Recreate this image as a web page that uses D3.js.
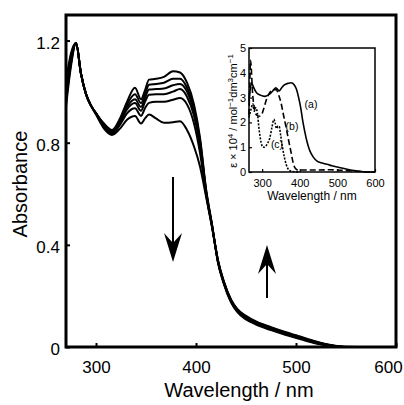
<!DOCTYPE html>
<html><head><meta charset="utf-8">
<script src="https://cdn.jsdelivr.net/npm/d3@7"></script>
<style>
body{margin:0;background:#fff}
svg{display:block}
text{font-family:"Liberation Sans",Arial,Helvetica,sans-serif;fill:#000}
</style>
</head><body>
<svg id="c" width="404" height="405"></svg>
<script>
// ---- main chart data (absorbance vs wavelength, six spectra) ----
const wavelengths = [270,275,280,285,290,295,300,308,316,324,331,339,345,349,353,360,368,377,384,391,398,404,410,416,422,428,435,441,450,460,475,490,505,520,535,550,575,600];
const spectrum1 = [0.94,1.10,1.19,1.07,0.99,0.945,0.915,0.875,0.85,0.895,0.96,1.015,0.97,1.005,1.047,1.05,1.058,1.08,1.075,1.035,0.95,0.82,0.62,0.48,0.33,0.245,0.175,0.138,0.108,0.088,0.066,0.047,0.030,0.014,0.004,0,0,0];
const spectrum2 = [0.96,1.11,1.19,1.07,0.99,0.945,0.915,0.872,0.845,0.89,0.95,0.99,0.955,0.99,1.027,1.03,1.035,1.05,1.05,1.015,0.935,0.81,0.615,0.478,0.332,0.248,0.178,0.141,0.111,0.091,0.069,0.05,0.033,0.016,0.005,0,0,0];
const spectrum3 = [0.98,1.12,1.19,1.07,0.99,0.945,0.915,0.868,0.84,0.885,0.94,0.97,0.94,0.975,1.008,1.01,1.012,1.025,1.03,1.0,0.92,0.80,0.61,0.476,0.334,0.25,0.18,0.144,0.114,0.094,0.072,0.052,0.035,0.018,0.006,0,0,0];
const spectrum4 = [1.0,1.13,1.19,1.07,0.99,0.945,0.915,0.865,0.838,0.878,0.93,0.955,0.925,0.96,0.988,0.99,0.99,1.0,1.01,0.98,0.905,0.785,0.605,0.474,0.336,0.251,0.182,0.146,0.116,0.096,0.074,0.054,0.036,0.019,0.006,0,0,0];
const spectrum5 = [1.02,1.14,1.19,1.07,0.99,0.945,0.915,0.862,0.835,0.87,0.915,0.935,0.905,0.935,0.956,0.96,0.96,0.968,0.975,0.95,0.875,0.76,0.60,0.472,0.338,0.253,0.184,0.148,0.119,0.098,0.076,0.056,0.038,0.02,0.007,0,0,0];
const spectrum6 = [1.04,1.15,1.19,1.07,0.99,0.945,0.91,0.855,0.83,0.855,0.89,0.905,0.875,0.895,0.91,0.895,0.878,0.88,0.884,0.85,0.785,0.707,0.59,0.47,0.34,0.255,0.186,0.15,0.122,0.1,0.078,0.058,0.04,0.022,0.008,0.001,0,0];
const mainXTicks = [300,400,500,600];
const mainYTicks = [0,0.4,0.8,1.2];
const mainYTickLabels = ["0","0.4","0.8","1.2"];

// ---- inset data (epsilon x 1e-4 vs wavelength) ----
const insetA_nm  = [265,268,272,276,285,295,307,316,324,331,336,340,345,352,360,370,377,385,391,397,403,408,413,420,425,429,436,446,460,475,486,500,515,529,545,560,582,600];
const insetA_eps = [2.9,3.3,3.6,3.45,3.2,3.1,3.05,3.1,3.2,3.32,3.4,3.35,3.27,3.4,3.52,3.58,3.6,3.52,3.35,3.0,2.55,2.05,1.65,1.18,0.93,0.78,0.6,0.44,0.36,0.3,0.25,0.2,0.15,0.1,0.06,0.03,0,0];
const insetB_nm  = [265,267,269,271,274,279,285,292,298,305,312,320,329,337,344,350,356,363,370,377,382,386,390,396,420,450,480,500,530,560,580,600];
const insetB_eps = [2.3,3.5,4.5,4.2,3.3,2.6,2.3,2.25,2.3,2.6,2.95,3.2,3.32,3.32,3.1,2.8,2.35,1.85,1.3,0.78,0.4,0.2,0.12,0.08,0.08,0.08,0.09,0.08,0.05,0.02,0,0];
const insetC_nm  = [265,270,275,279,283,287,292,297,302,307,314,320,326,331,335,338,342,345,349,354,359,364,368,374,380,400];
const insetC_eps = [2.2,2.5,2.75,2.45,2.6,2.4,1.7,1.2,1.0,1.0,1.15,1.35,1.8,2.12,1.95,1.75,1.85,1.85,1.5,1.0,0.6,0.3,0.15,0.05,0.02,0];
const insetXTicks = [300,400,500,600];
const insetYTicks = [0,1,2,3,4,5];
const insetCurveLabels = ["(a)","(b)","(c)"];

const svg = d3.select("#c");

// ---------- main chart ----------
const M = {l:66, r:396, t:15, b:347};
const x = d3.scaleLinear().domain([270,600]).range([M.l,M.r]);
const y = d3.scaleLinear().domain([0,1.3]).range([M.b,M.t]);

const spectra = [spectrum1,spectrum2,spectrum3,spectrum4,spectrum5,spectrum6];
const line = d3.line().x(d=>x(d[0])).y(d=>y(d[1])).curve(d3.curveMonotoneX);
svg.append("g").selectAll("path").data(spectra).join("path")
  .attr("d", s => line(wavelengths.map((w,i)=>[w,s[i]])))
  .attr("fill","none").attr("stroke","#000").attr("stroke-width",2)
  .attr("stroke-linejoin","round");

const xAxis = svg.append("g").attr("transform",`translate(0,${M.b})`)
  .call(d3.axisBottom(x).tickValues(mainXTicks).tickSize(-4).tickPadding(14).tickFormat(d3.format("d")));
xAxis.select(".domain").remove();
xAxis.selectAll("line").attr("stroke","#000").attr("stroke-width",2);
xAxis.selectAll("text").attr("font-size",17).attr("font-family",null)
  .attr("dx",d=>d===600?"-8":null);

const yAxis = svg.append("g").attr("transform",`translate(${M.l},0)`)
  .call(d3.axisLeft(y).tickValues(mainYTicks).tickSize(-4).tickPadding(6).tickFormat((d,i)=>mainYTickLabels[i]));
yAxis.select(".domain").remove();
yAxis.selectAll("line").attr("stroke","#000").attr("stroke-width",2);
yAxis.selectAll("text").attr("font-size",17).attr("dy","0.45em").attr("font-family",null);

svg.append("rect").attr("x",M.l).attr("y",M.t).attr("width",M.r-M.l).attr("height",M.b-M.t)
  .attr("fill","none").attr("stroke","#000").attr("stroke-width",3);

svg.append("text").attr("x",239).attr("y",397).attr("text-anchor","middle")
  .attr("font-size",20).text("Wavelength / nm");
svg.append("text").attr("transform","translate(27,184) rotate(-90)").attr("text-anchor","middle")
  .attr("font-size",20).text("Absorbance");

// arrows
function arrow(xv, yFrom, yTo){
  const dir = yTo > yFrom ? 1 : -1;
  svg.append("line").attr("x1",xv).attr("x2",xv).attr("y1",yFrom).attr("y2",yTo-dir*12)
    .attr("stroke","#000").attr("stroke-width",2);
  const p = d3.path();
  p.moveTo(xv, yTo);
  p.lineTo(xv-9, yTo-dir*29);
  p.lineTo(xv, yTo-dir*19);
  p.lineTo(xv+9, yTo-dir*29);
  p.closePath();
  svg.append("path").attr("d",p.toString()).attr("fill","#000");
}
arrow(173, 177, 262);
arrow(267, 298, 245);

// ---------- inset ----------
const I = {l:249, r:375, t:48, b:172};
const ix = d3.scaleLinear().domain([265,600]).range([I.l,I.r]);
const iy = d3.scaleLinear().domain([0,5]).range([I.b,I.t]);
svg.append("rect").attr("x",I.l).attr("y",I.t).attr("width",I.r-I.l).attr("height",I.b-I.t).attr("fill","#fff");

const iline = d3.line().x(d=>ix(d[0])).y(d=>iy(d[1])).curve(d3.curveMonotoneX);
const insetCurves = [
  {nm:insetA_nm, v:insetA_eps, dash:null, w:1.6},
  {nm:insetB_nm, v:insetB_eps, dash:"6,3", w:1.6},
  {nm:insetC_nm, v:insetC_eps, dash:"2,1.5", w:1.6}
];
svg.append("g").selectAll("path").data(insetCurves).join("path")
  .attr("d", c => iline(c.nm.map((w,i)=>[w,c.v[i]])))
  .attr("fill","none").attr("stroke","#000").attr("stroke-width",c=>c.w)
  .attr("stroke-dasharray",c=>c.dash);

const ixAxis = svg.append("g").attr("transform",`translate(0,${I.b})`)
  .call(d3.axisBottom(ix).tickValues(insetXTicks).tickSize(-3).tickPadding(7).tickFormat(d3.format("d")));
ixAxis.select(".domain").remove();
ixAxis.selectAll("line").attr("stroke","#000").attr("stroke-width",1.2);
ixAxis.selectAll("text").attr("font-size",11).attr("font-family",null);

const iyAxis = svg.append("g").attr("transform",`translate(${I.l},0)`)
  .call(d3.axisLeft(iy).tickValues(insetYTicks).tickSize(-3).tickPadding(3).tickFormat(d3.format("d")));
iyAxis.select(".domain").remove();
iyAxis.selectAll("line").attr("stroke","#000").attr("stroke-width",1.2);
iyAxis.selectAll("text").attr("font-size",11).attr("font-family",null);

svg.append("rect").attr("x",I.l).attr("y",I.t).attr("width",I.r-I.l).attr("height",I.b-I.t)
  .attr("fill","none").attr("stroke","#000").attr("stroke-width",1.5);

svg.append("text").attr("x",312).attr("y",200).attr("text-anchor","middle")
  .attr("font-size",12).text("Wavelength / nm");

const yl = svg.append("text").attr("transform","translate(237,111) rotate(-90)")
  .attr("text-anchor","middle").attr("font-size",11);
const parts = [["ε × 10",false],["4",true],[" / mol",false],["−1",true],["dm",false],["3",true],["cm",false],["−1",true]];
let sup = false;
parts.forEach(([t,s])=>{
  const ts = yl.append("tspan").text(t);
  if(s){ ts.attr("font-size",8); if(!sup) ts.attr("dy",-4); }
  else if(sup){ ts.attr("dy",4); }
  sup = s;
});

const labelPos = [[311,104],[292,126],[277,144]];
svg.append("g").selectAll("text").data(insetCurveLabels).join("text")
  .attr("x",(d,i)=>labelPos[i][0]).attr("y",(d,i)=>labelPos[i][1]).attr("dy","0.35em")
  .attr("text-anchor","middle").attr("font-size",10.5).text(d=>d);
</script>
</body></html>
